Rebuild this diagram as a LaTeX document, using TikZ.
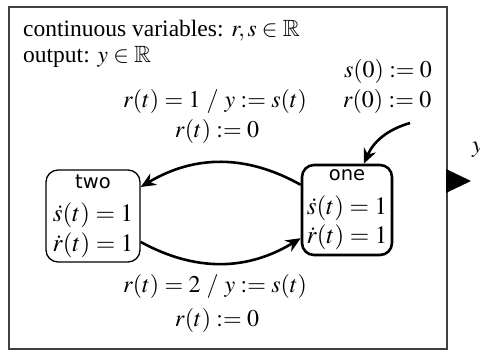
\documentclass[tikz,border=0pt]{standalone}
\usepackage{amssymb}
\usepackage{mathptmx}
\usepackage{fontspec}
\setmainfont{Liberation Serif}
\newfontfamily\modefont{DejaVu Sans}
\usetikzlibrary{arrows.meta,positioning}

\begin{document}
\begin{tikzpicture}[x=1pt,y=1pt,font=\fontsize{24}{26}\selectfont,
      m/.style={draw,rounded corners=12pt,line width=1.3pt,minimum width=94pt,minimum height=92pt,align=center,inner sep=0pt,
        font=\fontsize{25}{29.5}\selectfont},
      a/.style={-{Stealth[length=15pt,width=13pt]},line width=2.6pt}]
  \useasboundingbox (0,0) rectangle (480,-355);
  \draw[black!75,line width=1.2pt] (9,-7) rectangle (447,-349);
  \node[anchor=base west,inner sep=0pt,font=\fontsize{23.5}{26}\selectfont] (vars) at (23,-37) {continuous variables: $r,s\in\mathbb{R}$};
  \node[anchor=base west,inner sep=0pt,font=\fontsize{23.5}{26}\selectfont] (outp) at (23,-63) {output: $y\in\mathbb{R}$};
  \node[m] (two) at (93,-216) {{\modefont\fontsize{19.5}{20}\selectfont two}\\[4pt]$\dot s(t)=1$\\$\dot r(t)=1$};
  \node[m,line width=2.6pt,minimum width=90pt,minimum height=90pt] (one) at (347,-210) {{\modefont\fontsize{19.5}{20}\selectfont one}\\[4pt]$\dot s(t)=1$\\$\dot r(t)=1$};
  \node[anchor=base] (g1) at (215,-108) {$r(t)=1\ /\ y:=s(t)$};
  \node[anchor=base] (r1) at (217,-138) {$r(t):=0$};
  \node[anchor=base] (g2) at (215,-293) {$r(t)=2\ /\ y:=s(t)$};
  \node[anchor=base] (r2) at (217,-327) {$r(t):=0$};
  \node[anchor=base] (i1) at (388,-78) {$s(0):=0$};
  \node[anchor=base] (i2) at (387,-108) {$r(0):=0$};
  \coordinate (init) at (410,-123);
  \draw[a] (init) to[bend right=25] (one.70);
  \draw[a] (one) to[bend right=30] (two);
  \draw[a] (two) to[bend right=30] (one);
  % output port
  \fill (446,-169) -- (446,-193) -- (471,-181) -- cycle;
  \node[anchor=base west,inner sep=0pt] (ylab) at (472,-153) {$y$};
\end{tikzpicture}
\end{document}
